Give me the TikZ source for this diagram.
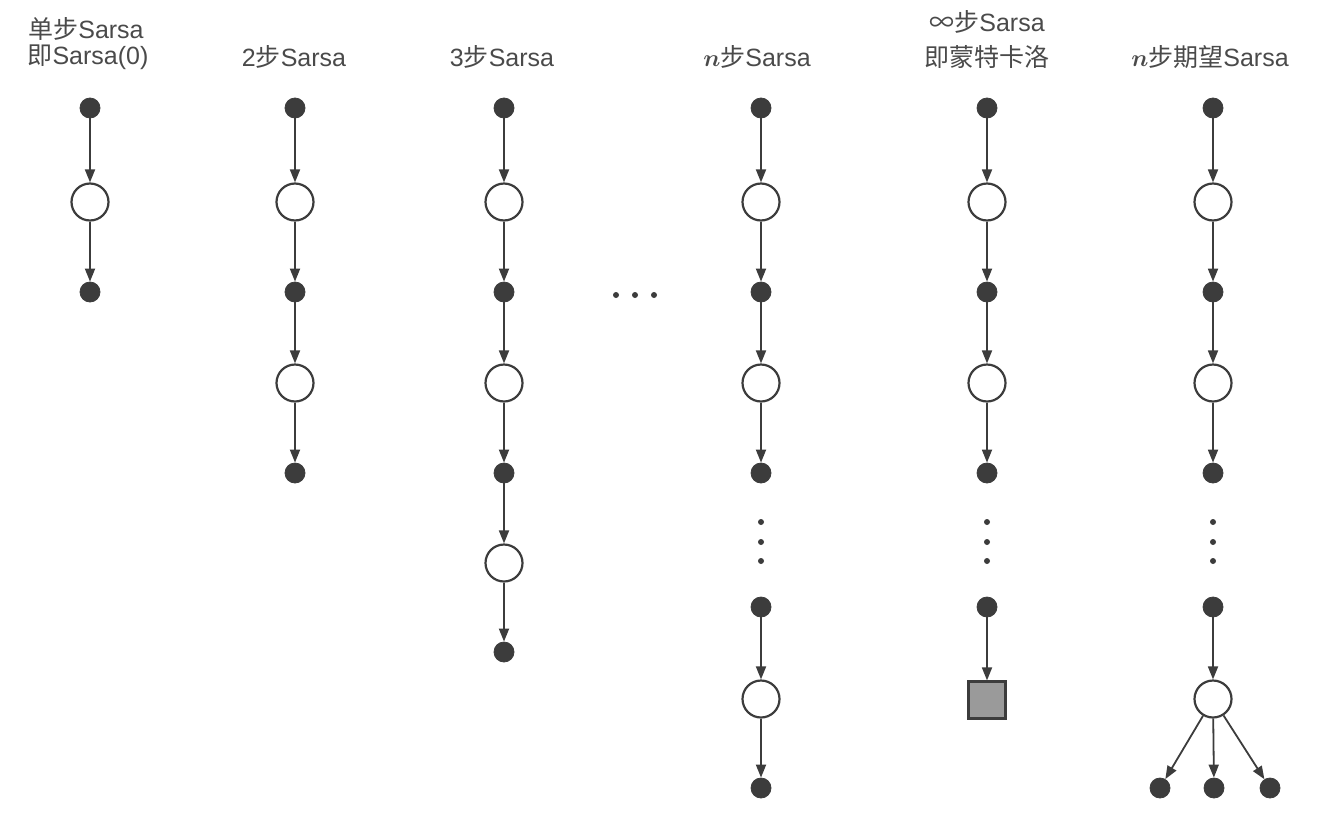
\documentclass[tikz,border=0pt]{standalone}
\usepackage{fontspec}
\setmainfont{Liberation Sans}
\newfontfamily\cjk{Noto Sans CJK SC}
\usetikzlibrary{arrows.meta}
\definecolor{ink}{HTML}{3C3C3C}
\definecolor{txt}{HTML}{4A4A4A}
\definecolor{sqfill}{HTML}{9A9A9A}
\newcommand{\nn}{\mbox{\boldmath$n$}}
\tikzset{
  full/.style={circle,fill=ink,draw=ink,inner sep=0pt,minimum size=10pt},
  empty/.style={circle,fill=white,draw=ink,line width=1.1pt,inner sep=0pt,minimum size=18.5pt},
  term/.style={rectangle,fill=sqfill,draw=ink,line width=1.1pt,inner sep=0pt,minimum size=18.5pt},
  sdot/.style={circle,fill=ink,inner sep=0pt,minimum size=3pt},
  conn/.style={draw=ink,line width=0.9pt,-{Triangle[length=6.5pt,width=5pt]}},
  lbl/.style={text=txt,font=\fontsize{12.5pt}{15pt}\selectfont,inner sep=0pt,align=center}
}
\begin{document}
\begin{tikzpicture}[x=0.5pt,y=-0.5pt]
\useasboundingbox (0,0) rectangle (1333,814);
% labels
\node[lbl] (l1a) at (86,29) {{\cjk 单步}Sarsa};
\node[lbl] (l1b) at (88,57) {{\cjk 即}Sarsa(0)};
\node[lbl] (l2) at (294,57) {2{\cjk 步}Sarsa};
\node[lbl] (l3) at (502,57) {3{\cjk 步}Sarsa};
\node[lbl] (l4) at (757,57) {\nn{\cjk 步}Sarsa};
\node[lbl] (l5a) at (987,22) {{\cjk ∞步}Sarsa};
\node[lbl] (l5b) at (987,57) {{\cjk 即蒙特卡洛}};
\node[lbl] (l6) at (1210,57) {\nn{\cjk 步期望}Sarsa};
% column 1
\node[full] (a1) at (90,108) {};
\node[empty] (a2) at (90,202) {};
\node[full] (a3) at (90,292) {};
\draw[conn] (a1) -- (a2);
\draw[conn] (a2) -- (a3);
% column 2
\node[full] (b1) at (295,108) {};
\node[empty] (b2) at (295,202) {};
\node[full] (b3) at (295,292) {};
\node[empty] (b4) at (295,383) {};
\node[full] (b5) at (295,473) {};
\foreach \i/\j in {1/2,2/3,3/4,4/5} \draw[conn] (b\i) -- (b\j);
% column 3
\node[full] (c1) at (504,108) {};
\node[empty] (c2) at (504,202) {};
\node[full] (c3) at (504,292) {};
\node[empty] (c4) at (504,383) {};
\node[full] (c5) at (504,473) {};
\node[empty] (c6) at (504,563) {};
\node[full] (c7) at (504,652) {};
\foreach \i/\j in {1/2,2/3,3/4,4/5,5/6,6/7} \draw[conn] (c\i) -- (c\j);
% ellipsis
\node[sdot] (h1) at (616,295) {};
\node[sdot] (h2) at (635,295) {};
\node[sdot] (h3) at (654,295) {};
% column 4
\node[full] (d1) at (761,108) {};
\node[empty] (d2) at (761,202) {};
\node[full] (d3) at (761,292) {};
\node[empty] (d4) at (761,383) {};
\node[full] (d5) at (761,473) {};
\node[sdot] (dv1) at (761,522) {};
\node[sdot] (dv2) at (761,542) {};
\node[sdot] (dv3) at (761,561) {};
\node[full] (d6) at (761,607) {};
\node[empty] (d7) at (761,699) {};
\node[full] (d8) at (761,788) {};
\foreach \i/\j in {1/2,2/3,3/4,4/5,6/7,7/8} \draw[conn] (d\i) -- (d\j);
% column 5
\node[full] (e1) at (987,108) {};
\node[empty] (e2) at (987,202) {};
\node[full] (e3) at (987,292) {};
\node[empty] (e4) at (987,383) {};
\node[full] (e5) at (987,473) {};
\node[sdot] (ev1) at (987,522) {};
\node[sdot] (ev2) at (987,542) {};
\node[sdot] (ev3) at (987,561) {};
\node[full] (e6) at (987,607) {};
\node[term] (e7) at (987,700) {};
\foreach \i/\j in {1/2,2/3,3/4,4/5,6/7} \draw[conn] (e\i) -- (e\j);
% column 6
\node[full] (f1) at (1213,108) {};
\node[empty] (f2) at (1213,202) {};
\node[full] (f3) at (1213,292) {};
\node[empty] (f4) at (1213,383) {};
\node[full] (f5) at (1213,473) {};
\node[sdot] (fv1) at (1213,522) {};
\node[sdot] (fv2) at (1213,542) {};
\node[sdot] (fv3) at (1213,561) {};
\node[full] (f6) at (1213,607) {};
\node[empty] (f7) at (1213,699) {};
\node[full] (g1) at (1160,788) {};
\node[full] (g2) at (1214,788) {};
\node[full] (g3) at (1270,788) {};
\foreach \i/\j in {1/2,2/3,3/4,4/5,6/7} \draw[conn] (f\i) -- (f\j);
\draw[conn] (f7) -- (g1);
\draw[conn] (f7) -- (g2);
\draw[conn] (f7) -- (g3);
\end{tikzpicture}
\end{document}
